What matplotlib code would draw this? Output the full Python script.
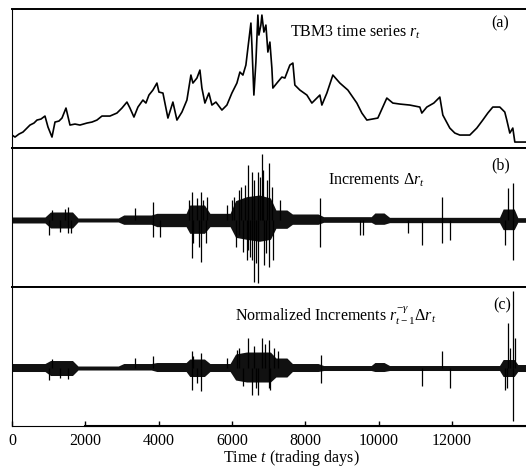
import matplotlib
matplotlib.use("Agg")
import matplotlib.pyplot as plt

plt.rcParams["font.family"] = ["Liberation Serif", "DejaVu Serif"]
plt.rcParams["mathtext.fontset"] = "custom"
plt.rcParams["mathtext.rm"] = "Liberation Serif"
plt.rcParams["mathtext.it"] = "Liberation Serif:italic"

# ---- (a) TBM3 rate (trading day, percent) ----
rate_t = [0, 82, 191, 300, 409, 491, 600, 682, 791, 900,
          982, 1091, 1173, 1282, 1364, 1473, 1582, 1718, 1854, 2045,
          2182, 2318, 2454, 2672, 2863, 3000, 3136, 3218, 3327, 3436,
          3572, 3654, 3736, 3845, 3954, 4009, 4118, 4254, 4390, 4500,
          4636, 4772, 4881, 4936, 5045, 5127, 5181, 5263, 5372, 5454,
          5563, 5727, 5863, 5999, 6136, 6218, 6300, 6381, 6436, 6518,
          6545, 6599, 6654, 6708, 6736, 6790, 6818, 6872, 6927, 6981,
          7036, 7090, 7117, 7227, 7363, 7445, 7581, 7663, 7717, 7854,
          8045, 8181, 8399, 8454, 8590, 8754, 8945, 9163, 9408, 9545,
          9681, 9981, 10226, 10390, 10581, 10853, 11126, 11181, 11317, 11508,
          11672, 11754, 11944, 12081, 12217, 12490, 12681, 12844, 12981, 13117,
          13308, 13444, 13499, 13581, 13663, 13718, 13935, 14017]
rate_r = [1.44, 1.20, 1.56, 1.80, 2.28, 2.64, 2.88, 3.24, 3.36, 3.72,
          2.40, 1.20, 3.00, 3.12, 3.48, 4.68, 2.64, 2.76, 2.64, 2.88,
          3.00, 3.24, 3.72, 3.72, 4.08, 4.68, 5.40, 4.68, 3.60, 4.80,
          5.64, 5.28, 6.24, 6.84, 7.68, 6.60, 6.48, 3.48, 5.40, 3.24,
          4.20, 5.64, 8.64, 7.68, 8.28, 9.24, 7.08, 5.28, 6.48, 5.04,
          5.40, 4.44, 5.04, 6.48, 7.68, 9.00, 8.64, 9.84, 11.88, 14.88,
          12.24, 6.24, 10.20, 15.84, 13.44, 14.64, 15.84, 13.80, 14.64, 11.40,
          12.60, 9.48, 7.08, 7.68, 8.40, 8.28, 9.84, 10.08, 7.44, 6.84,
          6.24, 5.28, 6.24, 5.04, 6.48, 8.64, 7.68, 6.84, 5.28, 4.08,
          3.24, 3.48, 5.88, 5.28, 5.16, 5.04, 4.80, 4.08, 4.80, 5.28,
          6.00, 3.84, 2.28, 1.68, 1.44, 1.44, 2.28, 3.24, 4.08, 4.80,
          4.80, 4.20, 3.24, 1.68, 2.28, 0.60, 0.60, 0.60]

# ---- (b) increments: dense band envelope + isolated spikes ----
band_t = [0, 900, 1050, 1650, 1800, 2900, 3050, 3800, 3950, 4750,
          4850, 5250, 5400, 5950, 6100, 6400, 6750, 7050, 7200, 7500,
          7650, 8350, 8500, 9800, 9900, 10150, 10300, 13300, 13400, 13700,
          13800, 14020]
inc_hi = [0.09, 0.09, 0.24, 0.24, 0.06, 0.06, 0.15, 0.15, 0.20, 0.20,
          0.45, 0.45, 0.20, 0.20, 0.58, 0.70, 0.75, 0.66, 0.30, 0.30,
          0.18, 0.18, 0.10, 0.10, 0.21, 0.21, 0.08, 0.08, 0.33, 0.33,
          0.07, 0.07]
inc_lo = [-0.09, -0.09, -0.24, -0.24, -0.06, -0.06, -0.13, -0.13, -0.20, -0.20,
          -0.40, -0.40, -0.20, -0.20, -0.52, -0.58, -0.64, -0.58, -0.25, -0.25,
          -0.13, -0.13, -0.07, -0.07, -0.13, -0.13, -0.08, -0.08, -0.29, -0.29,
          -0.07, -0.07]
inc_spike_t = [1000, 1100, 1300, 1450, 1536, 1536, 1600, 3354, 3854, 3854,
               4036, 4820, 4900, 4900, 4950, 5050, 5100, 5145, 5145, 5220,
               5280, 5327, 5863, 5990, 6060, 6120, 6181, 6200, 6250, 6300,
               6350, 6409, 6427, 6427, 6480, 6536, 6536, 6590, 6600, 6650,
               6718, 6718, 6760, 6809, 6850, 6880, 6920, 6960, 7018, 7018,
               7080, 7127, 7300, 8400, 8400, 9490, 9573, 10800, 11180, 11718,
               11718, 11945, 13445, 13527, 13663, 13663]
inc_spike_v = [-0.45, 0.30, -0.35, 0.33, 0.39, -0.39, -0.40, 0.36, 0.54, -0.51,
               -0.51, 0.60, 0.84, -1.14, -0.70, 0.65, -0.80, 0.84, -1.26, 0.60,
               -0.70, 0.69, 0.45, 0.60, 0.70, -0.80, -0.45, 0.90, 1.00, -0.95,
               1.05, -1.20, 1.65, -0.90, -1.10, 1.44, -1.20, -1.86, 1.20, -1.30,
               1.44, -1.89, 1.30, 1.98, 1.50, -1.35, -1.00, 1.20, 1.71, -1.41,
               1.00, -1.20, 0.60, 0.66, -0.81, -0.45, -0.45, -0.39, -0.75, 0.69,
               -0.69, -0.60, -0.75, 0.96, 1.11, -1.20]

# ---- (c) normalized increments ----
norm_hi = [0.045, 0.045, 0.075, 0.075, 0.02, 0.02, 0.045, 0.045, 0.055, 0.055,
           0.09, 0.09, 0.045, 0.045, 0.14, 0.16, 0.16, 0.16, 0.10, 0.10,
           0.045, 0.045, 0.025, 0.025, 0.055, 0.055, 0.025, 0.025, 0.085, 0.085,
           0.035, 0.035]
norm_lo = [-0.035, -0.035, -0.075, -0.075, -0.02, -0.02, -0.02, -0.02, -0.035, -0.035,
           -0.085, -0.085, -0.035, -0.035, -0.12, -0.14, -0.14, -0.14, -0.09, -0.09,
           -0.035, -0.035, -0.025, -0.025, -0.035, -0.035, -0.025, -0.025, -0.085, -0.085,
           -0.035, -0.035]
norm_spike_t = [1000, 1100, 1300, 1536, 3354, 3854, 4900, 4900, 4950, 5050,
                5145, 5145, 5863, 6150, 6200, 6300, 6427, 6536, 6600, 6650,
                6718, 6809, 6900, 7000, 7018, 7036, 7150, 7250, 8418, 8418,
                11180, 11736, 11945, 13445, 13500, 13535, 13600, 13663, 13663, 13720]
norm_spike_v = [-0.12, 0.09, -0.10, -0.11, 0.10, 0.12, 0.17, -0.22, 0.12, -0.15,
                0.15, -0.23, 0.10, 0.18, 0.20, -0.18, 0.30, -0.27, 0.22, -0.20,
                -0.27, 0.30, 0.24, -0.20, 0.28, -0.22, 0.20, 0.17, 0.13, -0.15,
                -0.18, 0.17, -0.20, -0.22, -0.20, 0.45, 0.20, 0.77, -0.53, 0.30]

xticks = [0, 2000, 4000, 6000, 8000, 10000, 12000]
xmax = 14020

fig = plt.figure(figsize=(5.26, 4.70), dpi=100)
left, width, height = 0.0228, 0.977, 0.2957
ax_a = fig.add_axes([left, 0.685, width, height])
ax_b = fig.add_axes([left, 0.3894, width, height])
ax_c = fig.add_axes([left, 0.0936, width, height])

ax_a.plot(rate_t, rate_r, color="black", lw=1.2)
ax_a.set_ylim(-0.12, 16.56)

ax_b.fill_between(band_t, inc_lo, inc_hi, color="#111111", lw=0)
ax_b.vlines(inc_spike_t, 0, inc_spike_v, color="black", lw=0.9)
ax_b.set_ylim(-2.01, 2.16)

ax_c.fill_between(band_t, norm_lo, norm_hi, color="#111111", lw=0)
ax_c.vlines(norm_spike_t, 0, norm_spike_v, color="black", lw=0.9)
ax_c.set_ylim(-0.58, 0.81)

for ax in (ax_a, ax_b, ax_c):
    ax.set_xlim(0, xmax)
    ax.set_yticks([])
    ax.spines["right"].set_visible(False)
    ax.spines["left"].set_linewidth(0.8)
    ax.spines["top"].set_linewidth(1.4)
    ax.spines["bottom"].set_linewidth(1.4)
    ax.tick_params(axis="x", bottom=False, labelbottom=False)

ax_c.spines["bottom"].set_linewidth(0.8)
ax_c.axhline(ax_c.get_ylim()[0], xmin=xticks[1] / xmax, xmax=1, color="black",
             lw=1.5, clip_on=False)
ax_c.set_xticks(xticks)
ax_c.tick_params(axis="x", bottom=True, labelbottom=True, direction="in",
                 length=3.5, width=1, pad=5, labelsize=11.5)

fs = 11.5
ax_a.text(0.541, 0.835, r"TBM3 time series $r_t$", transform=ax_a.transAxes,
          fontsize=fs, va="center", ha="left")
ax_a.text(0.949, 0.899, "(a)", transform=ax_a.transAxes, fontsize=fs,
          va="center", ha="center")
ax_b.text(0.615, 0.77, r"Increments $\Delta r_t$", transform=ax_b.transAxes,
          fontsize=fs, va="center", ha="left")
ax_b.text(0.951, 0.878, "(b)", transform=ax_b.transAxes, fontsize=fs,
          va="center", ha="center")
ax_c.text(0.434, 0.791, r"Normalized Increments $r_{t-1}^{-\gamma}\Delta r_t$",
          transform=ax_c.transAxes, fontsize=fs, va="center", ha="left")
ax_c.text(0.953, 0.871, "(c)", transform=ax_c.transAxes, fontsize=fs,
          va="center", ha="center")

fig.text(291 / 526, 1 - 468 / 470, r"Time $t$ (trading days)", fontsize=fs,
         ha="center", va="bottom")

fig.savefig("out.png", dpi=100)
